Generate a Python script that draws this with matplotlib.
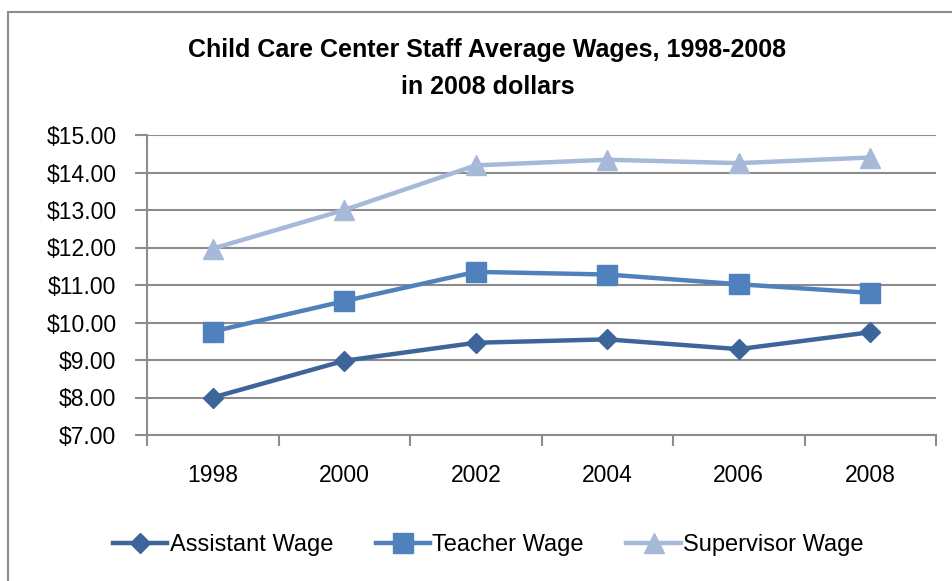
import matplotlib.pyplot as plt
from matplotlib.patches import Rectangle
from matplotlib.ticker import FixedLocator

years = ["1998", "2000", "2002", "2004", "2006", "2008"]
assistant = [8.00, 8.98, 9.46, 9.55, 9.29, 9.74]
teacher = [9.76, 10.57, 11.35, 11.28, 11.02, 10.79]
supervisor = [11.97, 13.00, 14.19, 14.34, 14.25, 14.40]

plt.rcParams['font.family'] = ['Liberation Sans', 'DejaVu Sans']

fig = plt.figure(figsize=(9.52, 5.81), dpi=100)
ax = fig.add_axes([147 / 952, 1 - 435 / 581, (936 - 147) / 952, 300 / 581])

x = range(len(years))
ax.plot(x, assistant, color="#3D6599", lw=3.2, marker="D", ms=10, label="Assistant Wage")
ax.plot(x, teacher, color="#4F81BD", lw=3.2, marker="s", ms=14, label="Teacher Wage")
ax.plot(x, supervisor, color="#A7B9D9", lw=3.2, marker="^", ms=14, label="Supervisor Wage")

# axes and grid
ax.set_xlim(-0.5, 5.5)
ax.set_ylim(7, 15)
ax.set_yticks(range(7, 16))
ax.set_yticklabels(["$%d.00" % v for v in range(7, 16)])
ax.set_xticks(list(x))
ax.set_xticklabels(years)
ax.xaxis.set_minor_locator(FixedLocator([i - 0.5 for i in range(7)]))
ax.tick_params(axis="x", which="major", length=0, labelsize=16.5, pad=21)
ax.tick_params(axis="x", which="minor", length=8, width=1.5, color="#8C8C8C")
ax.tick_params(axis="y", length=9, width=1.5, color="#8C8C8C", labelsize=16.5, pad=13)
ax.grid(axis="y", color="#8C8C8C", lw=1.5)
ax.set_axisbelow(True)
for s in ["top", "right"]:
    ax.spines[s].set_visible(False)
for s in ["left", "bottom"]:
    ax.spines[s].set_color("#8C8C8C")
    ax.spines[s].set_linewidth(1.5)

fig.text(0.512, 1 - 50 / 581, "Child Care Center Staff Average Wages, 1998-2008",
         ha="center", va="center", fontsize=18, fontweight="bold")
fig.text(0.512, 1 - 87 / 581, "in 2008 dollars",
         ha="center", va="center", fontsize=18, fontweight="bold")

fig.legend(loc="center", bbox_to_anchor=(0.513, 1 - 545 / 581), ncol=3, frameon=False,
           fontsize=17, handlelength=2.3, handletextpad=0.1, columnspacing=1.8)

# chart border
fig.patches.append(Rectangle((8 / 952, -0.05), 1.0, 1 - 12 / 581 + 0.05,
                             transform=fig.transFigure, fill=False,
                             edgecolor="#8C8C8C", lw=1.5))

fig.savefig("out.png", dpi=100)
